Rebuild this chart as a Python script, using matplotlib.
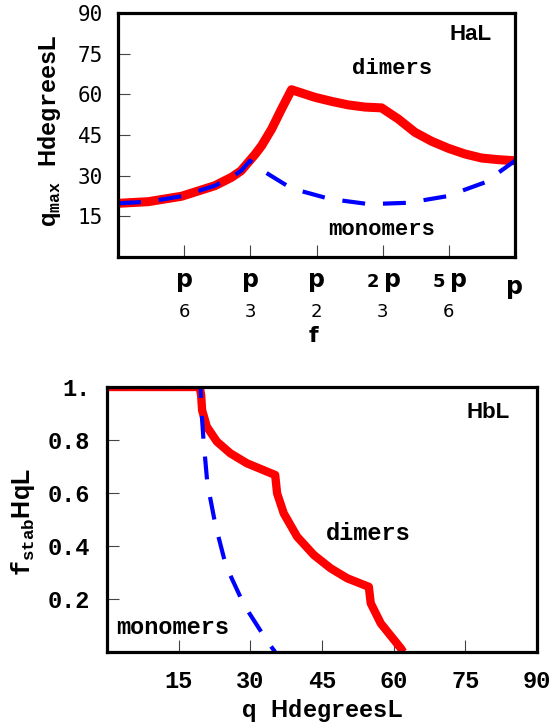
import matplotlib
matplotlib.use("Agg")
import numpy as np
import matplotlib.pyplot as plt

plt.rcParams['mathtext.fontset'] = 'custom'
plt.rcParams['mathtext.bf'] = 'Liberation Sans:bold'
plt.rcParams['mathtext.tt'] = 'Liberation Mono:bold'
plt.rcParams['mathtext.rm'] = 'Liberation Sans'

# (a) angle phi in units of pi, theta_max in degrees
phi_dim = [0, 0.076, 0.16, 0.244, 0.286, 0.31, 0.328, 0.345, 0.362, 0.387, 0.412, 0.437,
           0.496, 0.538, 0.58, 0.622, 0.664, 0.706, 0.748, 0.79, 0.832, 0.874, 0.916, 0.958, 1.0]
th_dim = [19.8, 20.4, 22.4, 26.3, 29.4, 31.8, 34.9, 37.8, 41.1, 47.2, 54.6, 61.7,
          58.9, 57.4, 56.1, 55.3, 55.0, 50.9, 46.0, 42.7, 40.1, 38.0, 36.5, 35.9, 35.5]
phi_mono = [0, 0.076, 0.16, 0.244, 0.286, 0.31, 0.3325, 0.355, 0.437, 0.534, 0.632,
            0.731, 0.828, 0.924, 1.0]
th_mono = [19.8, 20.4, 22.4, 26.3, 29.4, 31.8, 35.5, 32.7, 25.3, 21.4, 19.5,
           20.0, 22.4, 27.5, 35.5]

# (b) theta in degrees, f_stab
th_b_dim = [0, 19.4, 19.7, 19.9, 20.9, 23.0, 25.8, 29.3, 35.2, 35.6, 37.0, 39.8, 43.3, 46.8,
            50.3, 54.8, 55.2, 57.3, 61.5, 62.0]
f_b_dim = [1, 1, 0.97, 0.913, 0.85, 0.794, 0.75, 0.712, 0.668, 0.599, 0.523, 0.435, 0.366, 0.316,
           0.278, 0.246, 0.184, 0.108, 0.014, 0.0]
th_b_mono = [0, 19.6, 19.7, 20.2, 21.0, 22.7, 24.9, 28.7, 33.6, 35.2]
f_b_mono = [1, 1, 0.93, 0.80, 0.637, 0.479, 0.325, 0.177, 0.039, 0.0]

xt_coef = ["", "", "", "2", "5"]
xt_den = ["6", "3", "2", "3", "6"]

RED = "#ff0000"
BLUE = "#0000ff"
W, H = 559, 726

fig = plt.figure(figsize=(5.59, 7.26), dpi=100)
ax1 = fig.add_axes([118 / W, 1 - 257 / H, 397 / W, 244 / H])
ax2 = fig.add_axes([107 / W, 1 - 652 / H, 430 / W, 265 / H])

for ax in (ax1, ax2):
    for s in ax.spines.values():
        s.set_linewidth(2.3)
        s.set_zorder(5)
    ax.tick_params(direction='in', length=8.5, width=0.8, color='#444444')

# ---- (a)
ax1.plot(np.array(phi_dim) * np.pi, th_dim, color=RED, lw=6.5, solid_capstyle='butt')
ax1.plot(np.array(phi_mono) * np.pi, th_mono, color=BLUE, lw=3.0, dashes=(5.5, 4.3))
ax1.set_xlim(0, np.pi)
ax1.set_ylim(0, 90)
ax1.set_yticks([15, 30, 45, 60, 75, 90])
ax1.set_yticklabels(["15", "30", "45", "60", "75", "90"], family='DejaVu Sans Mono', fontsize=15)
ax1.tick_params(axis='y', pad=11)
xt = [np.pi / 6 * k for k in range(1, 6)]
ax1.set_xticks(xt)
ax1.set_xticklabels([])
tr = ax1.get_xaxis_transform()
for x, c, d in zip(xt, xt_coef, xt_den):
    dx = 0
    if c:
        dx = 7
        ax1.annotate(c, xy=(x, 0), xycoords=tr, xytext=(-7, -21.5), textcoords='offset points',
                     ha='center', va='baseline', fontsize=13, family='DejaVu Sans', weight='bold')
    ax1.annotate("p", xy=(x, 0), xycoords=tr, xytext=(dx, -21.5), textcoords='offset points',
                 ha='center', va='baseline', fontsize=17, family='DejaVu Sans', weight='bold')
    ax1.annotate(d, xy=(x, 0), xycoords=tr, xytext=(0, -39.5), textcoords='offset points',
                 ha='center', va='center', fontsize=13, family='DejaVu Sans')
ax1.annotate("p", xy=(np.pi, 0), xycoords=tr, xytext=(0, -26.5), textcoords='offset points',
             ha='center', va='baseline', fontsize=17, family='DejaVu Sans', weight='bold')
ax1.annotate("f", xy=(np.pi / 2, 0), xycoords=tr, xytext=(-2, -57), textcoords='offset points',
             ha='center', va='center', fontsize=16, family='DejaVu Sans', weight='bold')

ax1.text(0.887, 0.91, "HaL", transform=ax1.transAxes, ha='center', va='center',
         fontsize=16, family='Liberation Sans', weight='bold')
ax1.text(0.690, 0.772, "dimers", transform=ax1.transAxes, ha='center', va='center',
         fontsize=16, family='Liberation Mono', weight='bold')
ax1.text(0.665, 0.111, "monomers", transform=ax1.transAxes, ha='center', va='center',
         fontsize=16, family='Liberation Mono', weight='bold')
fig.text(50 / W, 1 - 131 / H, r"$\mathbf{q}_{\mathtt{max}}\ \ \mathbf{H}\mathtt{degrees}\mathbf{L}$",
         rotation=90, ha='center', va='center', fontsize=17)

# ---- (b)
ax2.plot(th_b_dim, f_b_dim, color=RED, lw=6.0, solid_capstyle='butt')
ax2.plot(th_b_mono, f_b_mono, color=BLUE, lw=3.0, dashes=(5.5, 4.3))
ax2.set_xlim(0, 90)
ax2.set_ylim(0, 1)
ax2.set_xticks([15, 30, 45, 60, 75, 90])
ax2.set_xticklabels(["15", "30", "45", "60", "75", "90"], family='Liberation Mono',
                    weight='bold', fontsize=17)
ax2.set_yticks([0.2, 0.4, 0.6, 0.8, 1.0])
ax2.set_yticklabels(["0.2", "0.4", "0.6", "0.8", "1."], family='Liberation Mono',
                    weight='bold', fontsize=17)
ax2.tick_params(axis='y', pad=12)
ax2.tick_params(axis='x', pad=13)
ax2.text(0.886, 0.902, "HbL", transform=ax2.transAxes, ha='center', va='center',
         fontsize=16, family='Liberation Sans', weight='bold')
ax2.text(0.607, 0.449, "dimers", transform=ax2.transAxes, ha='center', va='center',
         fontsize=17, family='Liberation Mono', weight='bold')
ax2.text(0.153, 0.094, "monomers", transform=ax2.transAxes, ha='center', va='center',
         fontsize=17, family='Liberation Mono', weight='bold')
fig.text(23 / W, 1 - 522 / H, r"$\mathtt{f}_{\mathtt{stab}}\mathbf{HqL}$",
         rotation=90, ha='center', va='center', fontsize=18)
fig.text(322 / W, 1 - 710 / H, r"$\mathbf{q}\ \ \mathbf{H}\mathtt{degrees}\mathbf{L}$",
         ha='center', va='center', fontsize=17)

fig.savefig("out.png", dpi=100)
